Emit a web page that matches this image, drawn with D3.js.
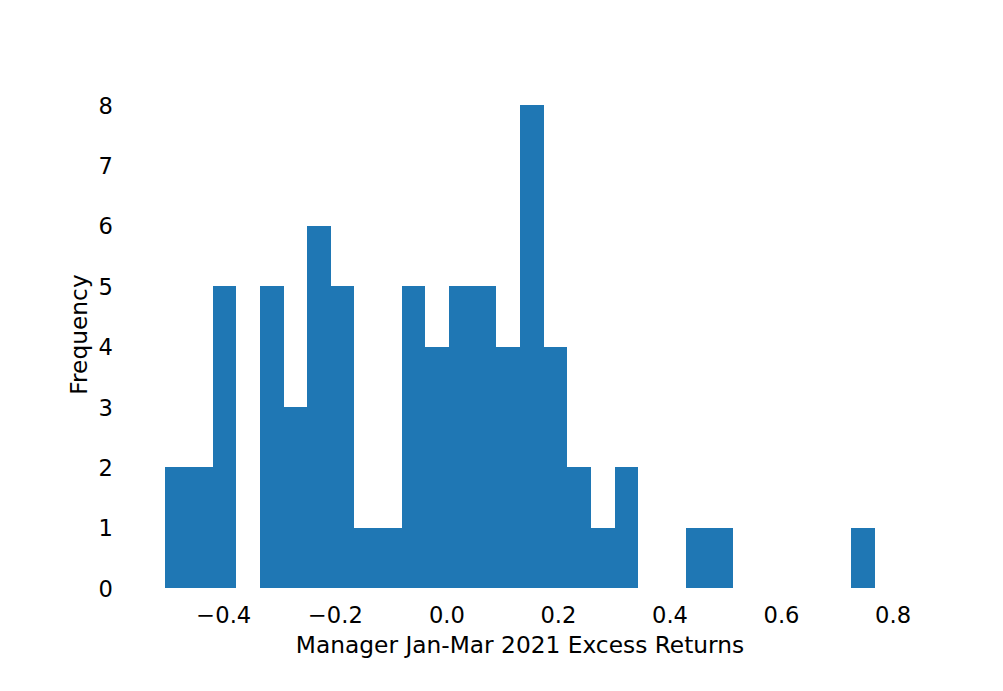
<!DOCTYPE html>
<html>
<head>
<meta charset="utf-8">
<script src="https://cdn.jsdelivr.net/npm/d3@7"></script>
<style>
  html, body { margin: 0; padding: 0; background: #ffffff; }
  svg { display: block; }
  text { font-family: "DejaVu Sans", sans-serif; fill: #000000; }
</style>
</head>
<body>
<svg id="chart" width="1003" height="691"></svg>
<script>
// ---- data ----
const dataMin = -0.504;
const dataMax = 0.768;
const binCount = 30;
const counts = [2, 2, 5, 0, 5, 3, 6, 5, 1, 1, 5, 4, 5, 5, 4, 8, 4, 2, 1, 2, 0, 0, 1, 1, 0, 0, 0, 0, 0, 1];
const xTicks = [-0.4, -0.2, 0.0, 0.2, 0.4, 0.6, 0.8];
const yTicks = [0, 1, 2, 3, 4, 5, 6, 7, 8];
const xLabel = "Manager Jan-Mar 2021 Excess Returns";
const yLabel = "Frequency";

// ---- layout ----
const TICK_FS = "22.6px";
const LABEL_FS = "23.3px";
const svg = d3.select("#chart");
const plot = { left: 129.8, right: 910.2, top: 81, bottom: 588 };
const span = dataMax - dataMin;
const x = d3.scaleLinear()
  .domain([dataMin - 0.05 * span, dataMax + 0.05 * span])
  .range([plot.left, plot.right]);
const y = d3.scaleLinear()
  .domain([0, 8.4])
  .range([plot.bottom, plot.top]);

const binW = span / binCount;
const bins = counts.map((c, i) => ({ x0: dataMin + i * binW, x1: dataMin + (i + 1) * binW, c }));

svg.append("g")
  .attr("shape-rendering", "crispEdges")
  .selectAll("rect")
  .data(bins.filter(d => d.c > 0))
  .join("rect")
  .attr("x", d => x(d.x0))
  .attr("width", d => x(d.x1) - x(d.x0))
  .attr("y", d => y(d.c))
  .attr("height", d => y(0) - y(d.c))
  .attr("fill", "#1f77b4");

// x axis (no domain line, no tick marks)
const xAxis = svg.append("g")
  .attr("transform", `translate(0,${plot.bottom})`)
  .call(d3.axisBottom(x).tickValues(xTicks).tickSize(0)
    .tickFormat(d => d3.format(".1f")(d).replace("-", "\u2212")));
xAxis.select(".domain").remove();
xAxis.selectAll("text")
  .attr("y", 34.7).attr("dy", null)
  .style("font-size", TICK_FS)
  .style("font-family", "DejaVu Sans, sans-serif")
  .attr("fill", "#000");

const yAxis = svg.append("g")
  .attr("transform", `translate(${plot.left},0)`)
  .call(d3.axisLeft(y).tickValues(yTicks).tickSize(0).tickFormat(d3.format("d")));
yAxis.select(".domain").remove();
yAxis.selectAll("text")
  .attr("x", -17).attr("dy", "0.36em")
  .style("font-size", TICK_FS)
  .style("font-family", "DejaVu Sans, sans-serif")
  .attr("fill", "#000");

svg.append("text")
  .attr("x", (plot.left + plot.right) / 2)
  .attr("y", 652.5)
  .attr("text-anchor", "middle")
  .style("font-size", LABEL_FS)
  .text(xLabel);

svg.append("text")
  .attr("transform", `translate(87,${(plot.top + plot.bottom) / 2}) rotate(-90)`)
  .attr("text-anchor", "middle")
  .style("font-size", LABEL_FS)
  .text(yLabel);
</script>
</body>
</html>
